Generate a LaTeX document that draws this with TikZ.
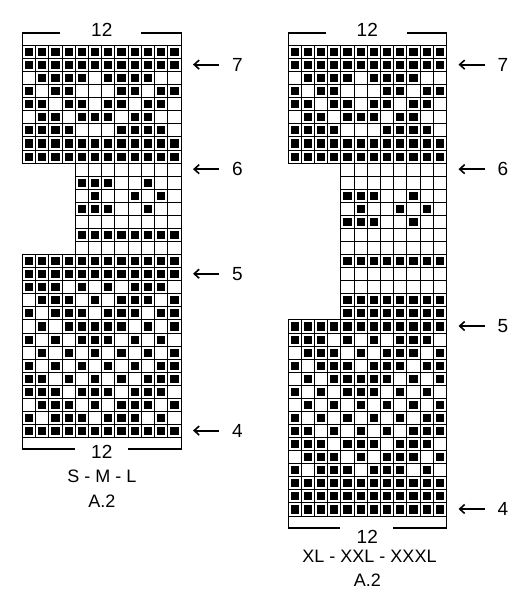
\documentclass[tikz,border=0pt]{standalone}
\usepackage{fontspec}
\setmainfont{Liberation Sans}
\usetikzlibrary{arrows.meta}
\def\cw{13.21}
\def\rh{13.07}
\def\sq{4.1}
\def\rowsL{{1,1,1,1,1,1,1,1,1,1,1,1},{1,1,1,1,1,1,1,1,1,1,1,1},{0,1,1,1,1,0,1,1,1,1,0,0},{1,0,1,1,0,0,0,1,1,0,1,1},{1,1,0,1,1,0,1,1,0,1,1,0},{0,1,1,0,1,1,1,0,1,1,0,0},{1,1,1,1,0,0,0,1,1,1,1,0},{1,1,1,1,1,1,1,1,1,1,1,1},{1,1,1,1,1,1,1,1,1,1,1,1},%
{2,2,2,2,0,0,0,0,0,0,0,0},{2,2,2,2,1,1,1,0,0,1,0,0},{2,2,2,2,0,1,0,0,1,0,1,0},{2,2,2,2,1,1,1,0,0,1,0,0},{2,2,2,2,0,0,0,0,0,0,0,0},{2,2,2,2,1,1,1,1,1,1,1,1},{2,2,2,2,0,0,0,0,0,0,0,0},%
{1,1,1,1,1,1,1,1,1,1,1,1},{1,1,1,1,1,1,1,1,1,1,1,1},{1,1,1,0,1,0,1,0,1,1,1,0},{0,1,1,1,0,1,0,1,1,1,0,1},{1,0,1,1,1,0,1,1,1,0,1,1},{0,1,0,1,1,1,1,1,0,1,0,1},{1,0,1,0,1,1,1,0,1,0,1,0},{0,1,0,1,0,1,0,1,0,1,0,1},{1,0,1,0,1,0,1,0,1,0,1,1},{1,1,0,1,0,1,0,1,0,1,1,1},{1,1,1,0,1,1,1,0,1,1,1,0},{0,1,1,1,0,1,0,1,1,1,0,1},{1,0,1,1,1,0,1,1,1,0,1,0},{1,1,1,1,1,1,1,1,1,1,1,1}}
\def\rowsR{{1,1,1,1,1,1,1,1,1,1,1,1},{1,1,1,1,1,1,1,1,1,1,1,1},{0,1,1,1,1,0,1,1,1,1,0,0},{1,0,1,1,0,0,0,1,1,0,1,1},{1,1,0,1,1,0,1,1,0,1,1,0},{0,1,1,0,1,1,1,0,1,1,0,0},{1,1,1,1,0,0,0,1,1,1,1,0},{1,1,1,1,1,1,1,1,1,1,1,1},{1,1,1,1,1,1,1,1,1,1,1,1},%
{2,2,2,2,0,0,0,0,0,0,0,0},{2,2,2,2,0,0,0,0,0,0,0,0},{2,2,2,2,1,1,1,0,0,1,0,0},{2,2,2,2,0,1,0,0,1,0,1,0},{2,2,2,2,1,1,1,0,0,1,0,0},{2,2,2,2,0,0,0,0,0,0,0,0},{2,2,2,2,0,0,0,0,0,0,0,0},{2,2,2,2,1,1,1,1,1,1,1,1},{2,2,2,2,0,0,0,0,0,0,0,0},{2,2,2,2,0,0,0,0,0,0,0,0},{2,2,2,2,1,1,1,1,1,1,1,1},{2,2,2,2,1,1,1,1,1,1,1,1},%
{1,1,1,1,1,1,1,1,1,1,1,1},{1,1,1,0,1,0,1,0,1,1,1,0},{0,1,1,1,0,1,0,1,1,1,0,1},{1,0,1,1,1,0,1,1,1,0,1,1},{0,1,0,1,1,1,1,1,0,1,0,1},{1,0,1,0,1,1,1,0,1,0,1,0},{0,1,0,1,0,1,0,1,0,1,0,1},{1,0,1,0,1,0,1,0,1,0,1,1},{1,1,0,1,0,1,0,1,0,1,1,1},{1,1,1,0,1,1,1,0,1,1,1,0},{0,1,1,1,0,1,0,1,1,1,0,1},{1,0,1,1,1,0,1,1,1,0,1,0},{1,1,1,1,1,1,1,1,1,1,1,1},{1,1,1,1,1,1,1,1,1,1,1,1},{1,1,1,1,1,1,1,1,1,1,1,1}}
\newcommand\knitchart[3]{%
  \foreach \row [count=\r from 0] in #3 {
    \foreach \v [count=\c from 0] in \row {
      \pgfmathsetmacro\xa{round(#1+\c*\cw)+0.5}
      \pgfmathsetmacro\xb{round(#1+(\c+1)*\cw)+0.5}
      \pgfmathsetmacro\ya{round(#2+\r*\rh)+0.5}
      \pgfmathsetmacro\yb{round(#2+(\r+1)*\rh)+0.5}
      \ifnum\v<2
        \draw[gridline] (\xa,\ya) rectangle (\xb,\yb);
      \fi
      \ifnum\v=1
        \fill[black] ({(\xa+\xb)/2-\sq},{(\ya+\yb)/2-\sq}) rectangle ++({2*\sq},{2*\sq});
      \fi
    }
  }}
\begin{document}
\begin{tikzpicture}[x=1pt,y=-1pt,
  gridline/.style={line width=1.3pt,black},
  bracket/.style={line width=1.8pt,black},
  lbl/.style={inner sep=0pt,font=\fontsize{19}{22}\selectfont},
  szlbl/.style={inner sep=0pt,font=\fontsize{18}{21}\selectfont},
  rowarrow/.style={line width=2pt,-{Straight Barb[length=5pt,width=9pt,line width=1.6pt]}}]
\useasboundingbox (0,0) rectangle (526,600);
\fill[white] (0,0) rectangle (526,600);
% charts
\knitchart{22}{45}{\rowsL}
\knitchart{287.5}{45}{\rowsR}
% left brackets
\node[lbl] (lt12) at (101.8,30) {12};
\draw[bracket] (22.5,45) -- (22.5,33) -- (60,33);
\draw[bracket] (141,33) -- (181.5,33) -- (181.5,45);
\node[lbl] (lb12) at (101.8,452) {12};
\draw[bracket] (22.5,437.5) -- (22.5,449) -- (75,449);
\draw[bracket] (128,449) -- (181.5,449) -- (181.5,437.5);
\node[szlbl] (lsize) at (101.8,476) {S - M - L};
\node[szlbl] (lname) at (101.8,501) {A.2};
% right brackets
\node[lbl] (rt12) at (367.3,30) {12};
\draw[bracket] (288.5,45) -- (288.5,33) -- (325.5,33);
\draw[bracket] (406.5,33) -- (446.5,33) -- (446.5,45);
\node[lbl] (rb12) at (367.3,536.5) {12};
\draw[bracket] (288.5,516.5) -- (288.5,528) -- (340,528);
\draw[bracket] (393,528) -- (446.5,528) -- (446.5,516.5);
\node[szlbl] (rsize) at (369.5,556) {XL - XXL - XXXL};
\node[szlbl] (rname) at (367.3,580) {A.2};
% left arrows
\foreach \n/\rr in {7/2,6/10,5/18,4/30}{
  \coordinate (la\n s) at (219,{45+(\rr-0.5)*\rh});
  \coordinate (la\n e) at (193,{45+(\rr-0.5)*\rh});
  \node[lbl,anchor=west] (la\n) at (232,{45+(\rr-0.5)*\rh}) {\n};
  \draw[rowarrow] (la\n s) -- (la\n e);
}
% right arrows
\foreach \n/\rr in {7/2,6/10,5/22,4/36}{
  \coordinate (ra\n s) at (484.5,{45+(\rr-0.5)*\rh});
  \coordinate (ra\n e) at (458.5,{45+(\rr-0.5)*\rh});
  \node[lbl,anchor=west] (ra\n) at (497.5,{45+(\rr-0.5)*\rh}) {\n};
  \draw[rowarrow] (ra\n s) -- (ra\n e);
}
\end{tikzpicture}
\end{document}
